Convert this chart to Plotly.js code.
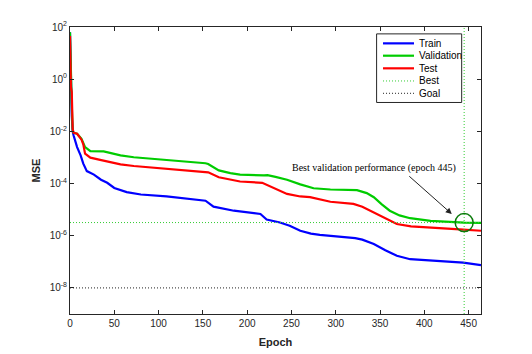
<!DOCTYPE html>
<html>
<head>
<meta charset="utf-8">
<script src="https://cdn.plot.ly/plotly-3.0.1.min.js"></script>
<style>html,body{margin:0;padding:0;background:#fff;}#chart{width:532px;height:354px;}</style>
</head>
<body>
<div id="chart"></div>
<script>
// ---- data ----
const trainEpochs = [0,1,2,3,4,8,12,15,19,27,35,42,50,64,80,109,130,153,162,185,215,219,222,237,248,260,272,282,300,322,330,343,356,369,384,407,430,444,464];
const trainMse = [6.3e1,3.2e-1,4.0e-2,1.0e-2,7.1e-3,2.5e-3,1.2e-3,5.8e-4,3.0e-4,2.2e-4,1.4e-4,1.07e-4,6.8e-5,4.7e-5,3.8e-5,3.2e-5,2.7e-5,2.2e-5,1.3e-5,9.1e-6,6.8e-6,5.0e-6,4.2e-6,3.2e-6,2.4e-6,1.55e-6,1.2e-6,1.07e-6,9.5e-7,8.1e-7,7.1e-7,4.8e-7,2.8e-7,1.7e-7,1.26e-7,1.1e-7,1.0e-7,9.3e-8,7.4e-8];

const valEpochs = [0,1,2,3,4,8,13,17,23,38,45,57,72,109,130,153,156,168,181,192,219,223,232,245,260,275,294,316,324,335,343,352,361,372,384,407,425,445,464];
const valMse = [6.3e1,4.5e-1,1.0e-1,1.12e-2,8.9e-3,8.1e-3,5.2e-3,2.5e-3,1.74e-3,1.7e-3,1.5e-3,1.2e-3,1.02e-3,8.1e-4,7.1e-4,6.0e-4,5.6e-4,3.2e-4,2.5e-4,2.2e-4,2.04e-4,2.1e-4,1.8e-4,1.4e-4,9.3e-5,6.6e-5,5.9e-5,5.8e-5,5.6e-5,4.3e-5,3.0e-5,1.6e-5,9.1e-6,6.0e-6,4.7e-6,3.7e-6,3.4e-6,3.2e-6,3.1e-6];

const testEpochs = [0,1,2,3,4,8,13,15,17,23,34,45,57,72,109,153,156,168,181,192,217,229,245,260,271,294,320,330,343,356,369,385,407,440,464];
const testMse = [4.5e1,5.0e-1,3.2e-1,1.26e-2,8.9e-3,8.1e-3,4.8e-3,3.2e-3,1.4e-3,9.8e-4,8.1e-4,6.6e-4,5.4e-4,4.7e-4,3.7e-4,2.9e-4,2.7e-4,1.74e-4,1.4e-4,1.2e-4,1.07e-4,7.2e-5,4.0e-5,3.2e-5,3.0e-5,2.0e-5,1.66e-5,1.3e-5,7.9e-6,4.5e-6,2.8e-6,2.3e-6,2.1e-6,1.74e-6,1.55e-6];

const bestEpoch = 445;
const bestMse = 3.2e-6;
const goalMse = 1e-8;
const maxEpoch = 464;

const xTickVals = [0,50,100,150,200,250,300,350,400,450];
const yTickVals = [1e-8,1e-6,1e-4,1e-2,1e0,1e2];
const yTickText = ['10<sup>-8</sup>','10<sup>-6</sup>','10<sup>-4</sup>','10<sup>-2</sup>','10<sup>0</sup>','10<sup>2</sup>'];
const seriesNames = ['Train','Validation','Test','Best','Goal'];
const annotationText = 'Best validation performance (epoch 445)';

// ---- styles ----
const axisColor = '#262626';
const font = 'Liberation Sans, Arial, sans-serif';
const styles = [
  {color: '#0000ff', width: 2.2, dash: 'solid'},
  {color: '#00cc00', width: 2.2, dash: 'solid'},
  {color: '#ff0000', width: 2.2, dash: 'solid'},
  {color: '#33cc33', width: 1, dash: '1px,2px'},
  {color: '#222222', width: 1, dash: '1px,2px'}
];

const traces = [
  {x: trainEpochs, y: trainMse, name: seriesNames[0], mode: 'lines', line: styles[0]},
  {x: valEpochs, y: valMse, name: seriesNames[1], mode: 'lines', line: styles[1]},
  {x: testEpochs, y: testMse, name: seriesNames[2], mode: 'lines', line: styles[2]},
  {x: [0, maxEpoch, null, bestEpoch, bestEpoch], y: [bestMse, bestMse, null, 1e-9, 1e2], name: seriesNames[3], mode: 'lines', connectgaps: false, line: styles[3]},
  {x: [0, maxEpoch], y: [goalMse, goalMse], name: seriesNames[4], mode: 'lines', line: styles[4]},
  {x: [bestEpoch], y: [bestMse], mode: 'markers', hoverinfo: 'skip', cliponaxis: false,
   marker: {symbol: 'circle-open', size: 18, color: '#0a7a0a', line: {width: 1.5, color: '#0a7a0a'}}}
];

// ---- manual legend (MATLAB-style compact box) ----
const legBox = {x0: 0.746, x1: 0.953, y0: 0.737, y1: 0.976};
const legRowY = [0.943, 0.900, 0.856, 0.812, 0.769];
const legLineX = [0.7616, 0.8370];
const legTextX = 0.8443;

const shapes = [
  {type: 'rect', xref: 'paper', yref: 'paper', x0: legBox.x0, x1: legBox.x1, y0: legBox.y0, y1: legBox.y1,
   fillcolor: '#ffffff', line: {color: axisColor, width: 1}, layer: 'above'}
];
const annotations = [
  {x: 343, y: -3.385, xref: 'x', yref: 'y', text: annotationText, showarrow: false,
   font: {family: 'Liberation Serif, Times New Roman, serif', size: 10, color: '#000'}},
  {x: 431, y: -5.165, xref: 'x', yref: 'y', text: '', showarrow: true, ax: -44, ay: -39,
   arrowhead: 2, arrowsize: 1.2, arrowwidth: 1, arrowcolor: '#222'}
];
seriesNames.forEach((n, i) => {
  shapes.push({type: 'line', xref: 'paper', yref: 'paper', x0: legLineX[0], x1: legLineX[1], y0: legRowY[i], y1: legRowY[i],
               line: {color: styles[i].color, width: styles[i].width, dash: styles[i].dash}, layer: 'above'});
  annotations.push({xref: 'paper', yref: 'paper', x: legTextX, y: legRowY[i], xanchor: 'left', yanchor: 'middle',
                    text: n, showarrow: false, font: {family: font, size: 10, color: '#000'}});
});

const layout = {
  width: 532, height: 354,
  margin: {l: 70, r: 51, t: 27, b: 40, pad: 0},
  paper_bgcolor: '#ffffff', plot_bgcolor: '#ffffff',
  font: {family: font, size: 10, color: axisColor},
  showlegend: false,
  xaxis: {range: [0, maxEpoch], tickvals: xTickVals, ticks: 'inside', ticklen: 4, tickcolor: axisColor, mirror: 'ticks',
          showline: true, linecolor: axisColor, linewidth: 1, showgrid: false, zeroline: false,
          tickfont: {family: font, size: 10, color: axisColor},
          title: {text: '<b>Epoch</b>', font: {family: font, size: 11, color: axisColor}, standoff: 10}},
  yaxis: {type: 'log', range: [-9, 2], tickvals: yTickVals, ticktext: yTickText, ticks: 'inside', ticklen: 4, tickcolor: axisColor, mirror: 'ticks',
          showline: true, linecolor: axisColor, linewidth: 1, showgrid: false, zeroline: false,
          tickfont: {family: font, size: 10, color: axisColor},
          title: {text: '<b>MSE</b>', font: {family: font, size: 11, color: axisColor}, standoff: 6}},
  shapes: shapes,
  annotations: annotations
};

Plotly.newPlot('chart', traces, layout, {displayModeBar: false, staticPlot: true});
</script>
</body>
</html>
